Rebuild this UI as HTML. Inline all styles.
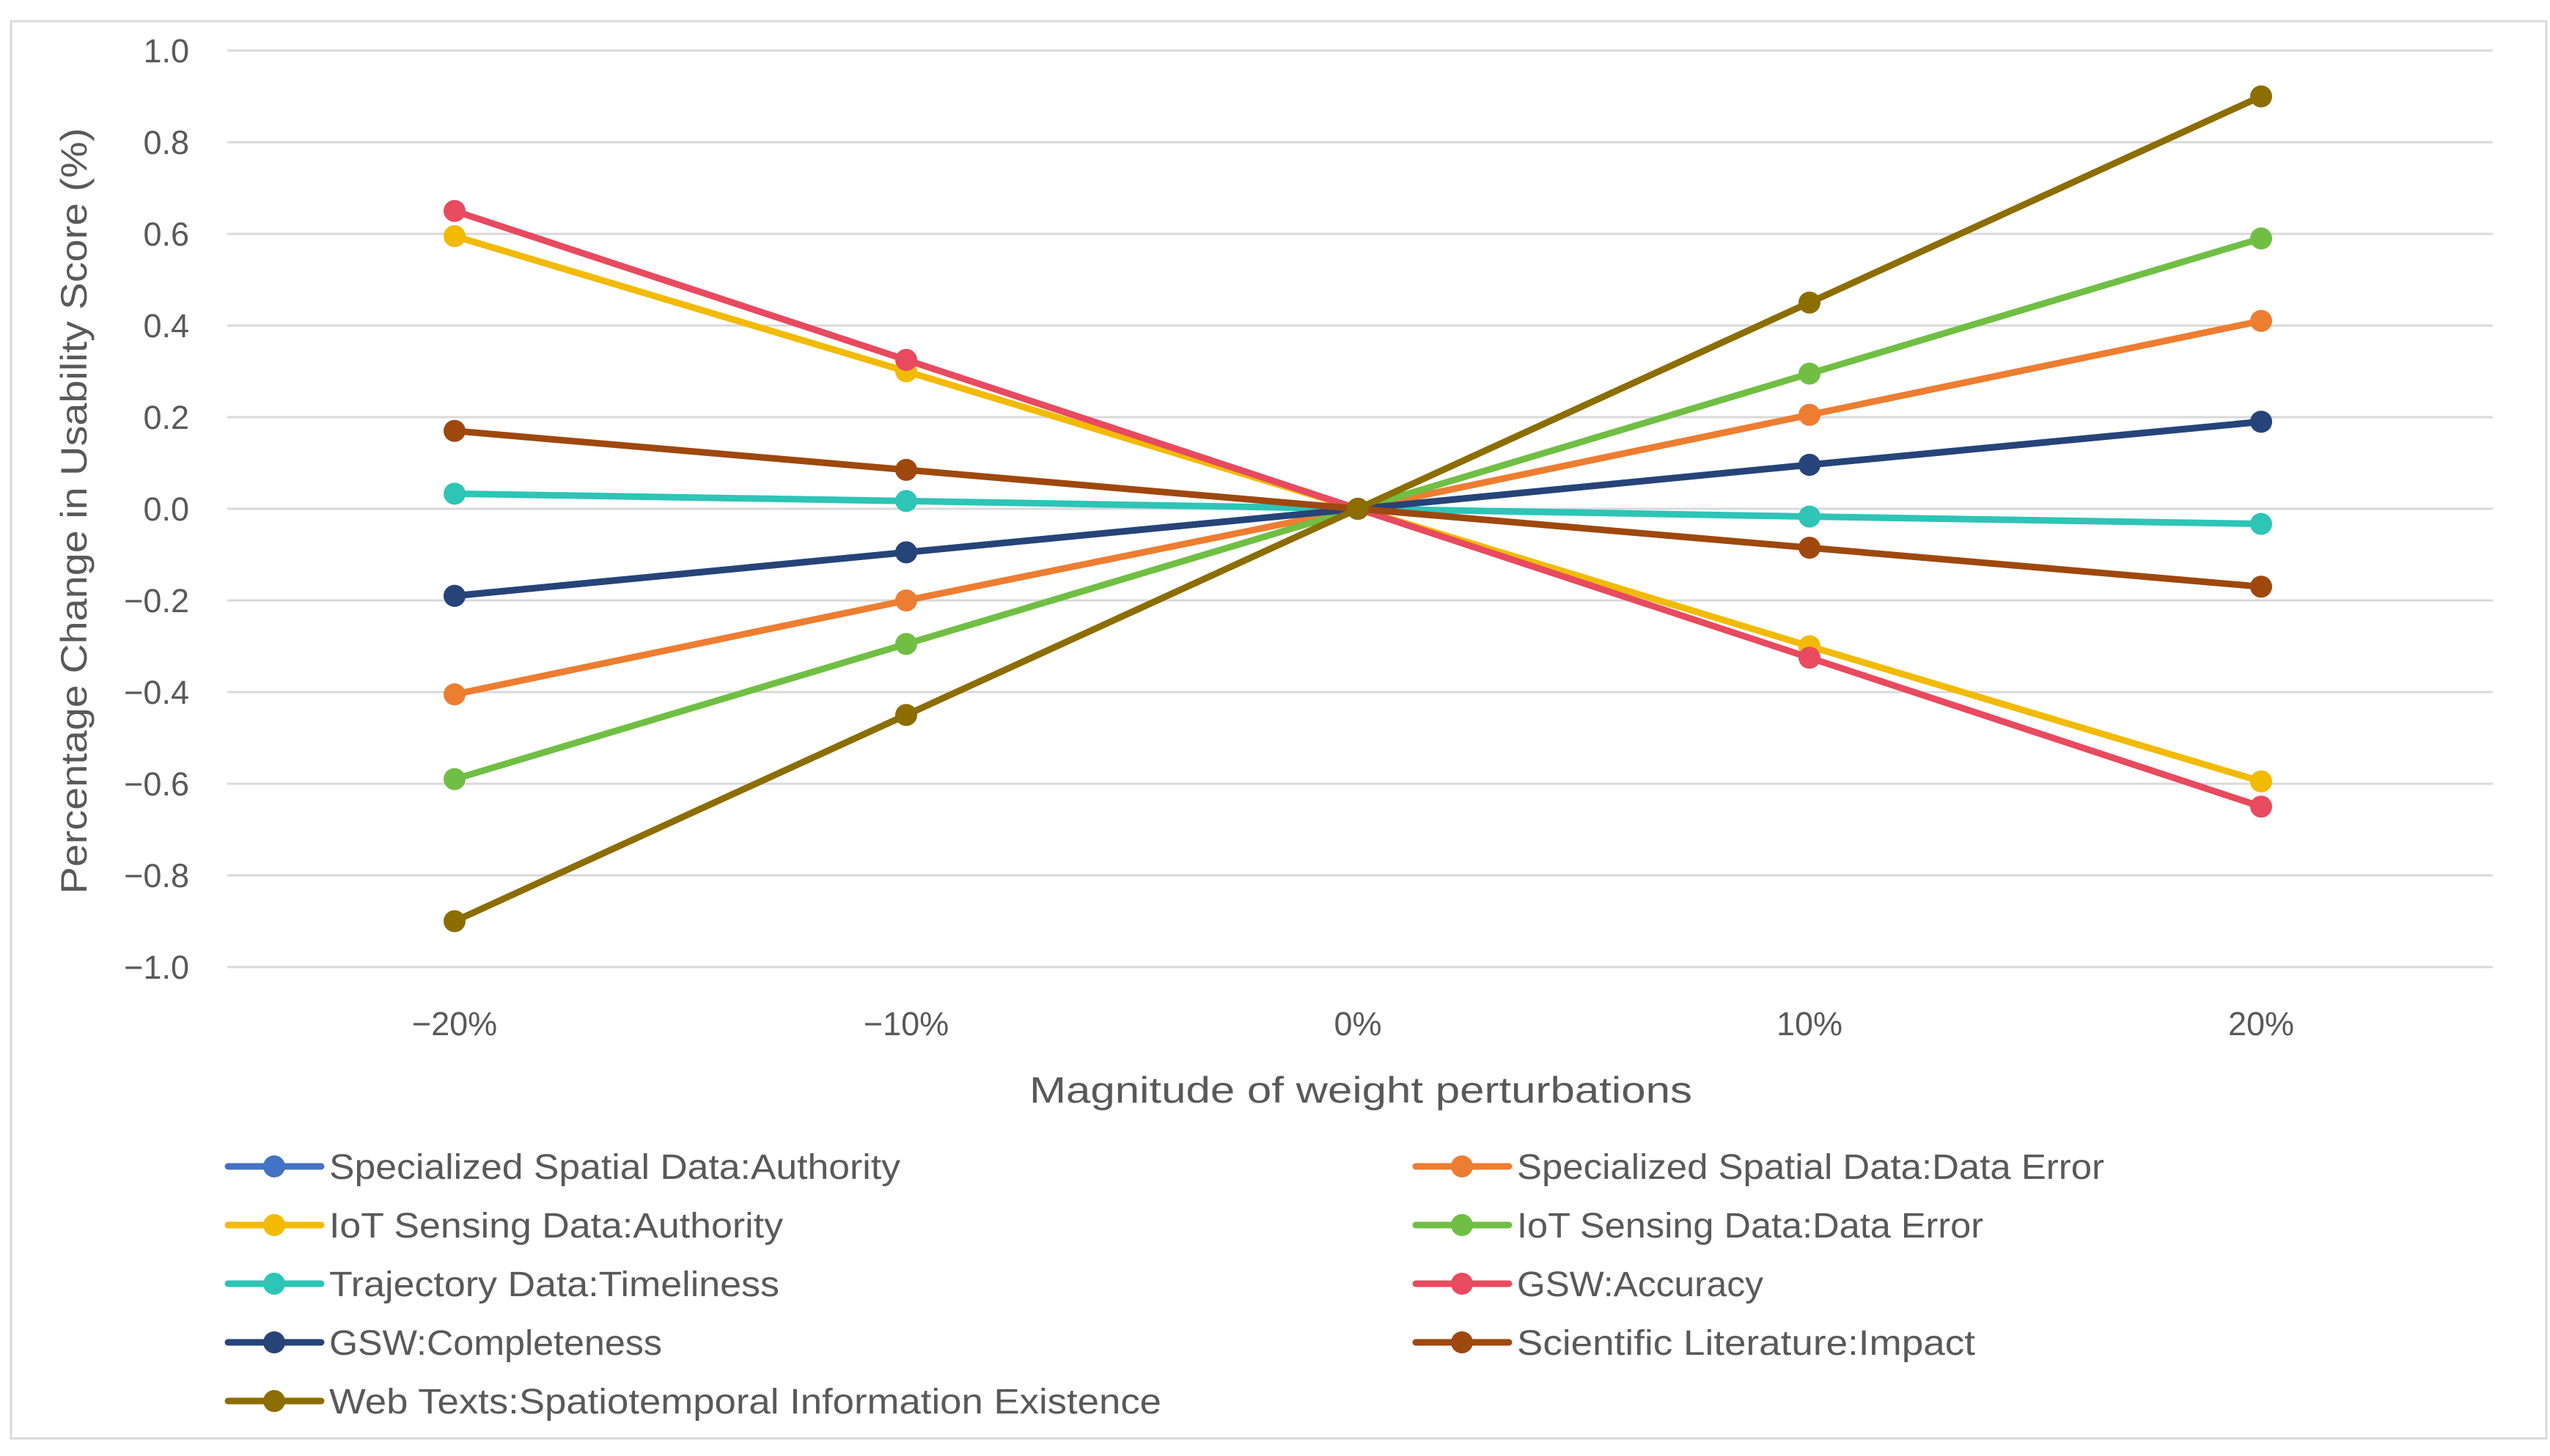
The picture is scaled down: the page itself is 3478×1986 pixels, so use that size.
<!DOCTYPE html>
<html><head><meta charset="utf-8"><style>
html,body{margin:0;padding:0;background:#fff}
svg{display:block}
text{font-family:"Liberation Sans",sans-serif;fill:#595959}
</style></head><body>
<svg id="chart" width="3478" height="1986" viewBox="0 0 3478 1986" xmlns="http://www.w3.org/2000/svg">
<rect x="15" y="29" width="3458" height="1933" fill="#fff" stroke="#d9d9d9" stroke-width="3"/>
<g id="grid"></g><g id="ticks"></g><g id="series"></g><g id="legend"></g>
<text transform="translate(118,697) rotate(-90)" text-anchor="middle" font-size="50" textLength="1045" lengthAdjust="spacingAndGlyphs">Percentage Change in Usability Score (%)</text>
<text x="1856" y="1504" text-anchor="middle" font-size="50" textLength="904" lengthAdjust="spacingAndGlyphs">Magnitude of weight perturbations</text>
</svg>
<script>
const categories = ["\u221220%", "\u221210%", "0%", "10%", "20%"];
const yTicks = [1.0, 0.8, 0.6, 0.4, 0.2, 0.0, -0.2, -0.4, -0.6, -0.8, -1.0];
const seriesNames = ["Specialized Spatial Data:Authority","Specialized Spatial Data:Data Error","IoT Sensing Data:Authority","IoT Sensing Data:Data Error","Trajectory Data:Timeliness","GSW:Accuracy","GSW:Completeness","Scientific Literature:Impact","Web Texts:Spatiotemporal Information Existence"];
const ssdAuthority = [-0.19, -0.095, 0, 0.096, 0.19];
const ssdDataError = [-0.405, -0.2, 0, 0.205, 0.41];
const iotAuthority = [0.595, 0.3, 0, -0.3, -0.595];
const iotDataError = [-0.59, -0.295, 0, 0.295, 0.59];
const trajTimeliness = [0.033, 0.017, 0, -0.017, -0.033];
const gswAccuracy = [0.65, 0.325, 0, -0.325, -0.65];
const gswCompleteness = [-0.19, -0.095, 0, 0.096, 0.19];
const sciImpact = [0.17, 0.085, 0, -0.085, -0.17];
const webTexts = [-0.9, -0.45, 0, 0.45, 0.9];
const seriesValues = [ssdAuthority, ssdDataError, iotAuthority, iotDataError, trajTimeliness, gswAccuracy, gswCompleteness, sciImpact, webTexts];
const colors = ["#4472C4","#ED7D31","#F2BA00","#70BF44","#2EC4B6","#E84A5F","#264478","#9E480E","#8C6D00"];
const labelWidths = [779,801,619,636,614,336,454,625,1135];

const NS = "http://www.w3.org/2000/svg";
const plotL = 310, plotR = 3400, yTop = 69, yBot = 1319;
const xScale = i => 620 + i * 616;
const yScale = v => yTop + (1 - v) / 2 * (yBot - yTop);
function mk(tag, attrs, parent){ const e = document.createElementNS(NS, tag); for (const k in attrs) e.setAttribute(k, attrs[k]); parent.appendChild(e); return e; }
const grid = document.getElementById('grid'), ticks = document.getElementById('ticks');
yTicks.forEach(v => {
  const l = mk('line', {x1: plotL, x2: plotR, y1: yScale(v), y2: yScale(v), stroke: '#d9d9d9', 'stroke-width': 3}, grid);
  
  
  const t = mk('text', {x: 258, y: yScale(v) + 16, 'text-anchor': 'end', 'font-size': 45}, ticks);
  t.textContent = (v < 0 ? '\u2212' : '') + Math.abs(v).toFixed(1);
  
  
});
categories.forEach((c, i) => {
  const t = mk('text', {x: xScale(i), y: 1412, 'text-anchor': 'middle', 'font-size': 45}, ticks);
  t.textContent = c;
  
  
});
const sg = document.getElementById('series');
seriesValues.forEach((vals, s) => {
  const g = mk('g', {}, sg);
  
  
  const p = mk('polyline', {points: vals.map((v, i) => xScale(i) + ',' + yScale(v)).join(' '), fill: 'none', stroke: colors[s], 'stroke-width': 9, 'stroke-linejoin': 'round', 'stroke-linecap': 'round'}, g);
  
  
  vals.forEach((v, i) => {
    const c = mk('circle', {cx: xScale(i), cy: yScale(v), r: 15, fill: colors[s]}, g);
    
    
  });
});
const lg = document.getElementById('legend');
seriesNames.forEach((n, s) => {
  const col = s % 2, row = Math.floor(s / 2);
  const x0 = col ? 1931 : 311, y0 = 1591 + row * 80;
  const g = mk('g', {}, lg);
  
  
  mk('line', {x1: x0, x2: x0 + 127, y1: y0, y2: y0, stroke: colors[s], 'stroke-width': 9, 'stroke-linecap': 'round'}, g);
  mk('circle', {cx: x0 + 63, cy: y0, r: 15, fill: colors[s]}, g);
  const t = mk('text', {x: x0 + 138, y: y0 + 17, 'font-size': 48, textLength: labelWidths[s], lengthAdjust: 'spacingAndGlyphs'}, g);
  t.textContent = n;
});
</script>
</body></html>
